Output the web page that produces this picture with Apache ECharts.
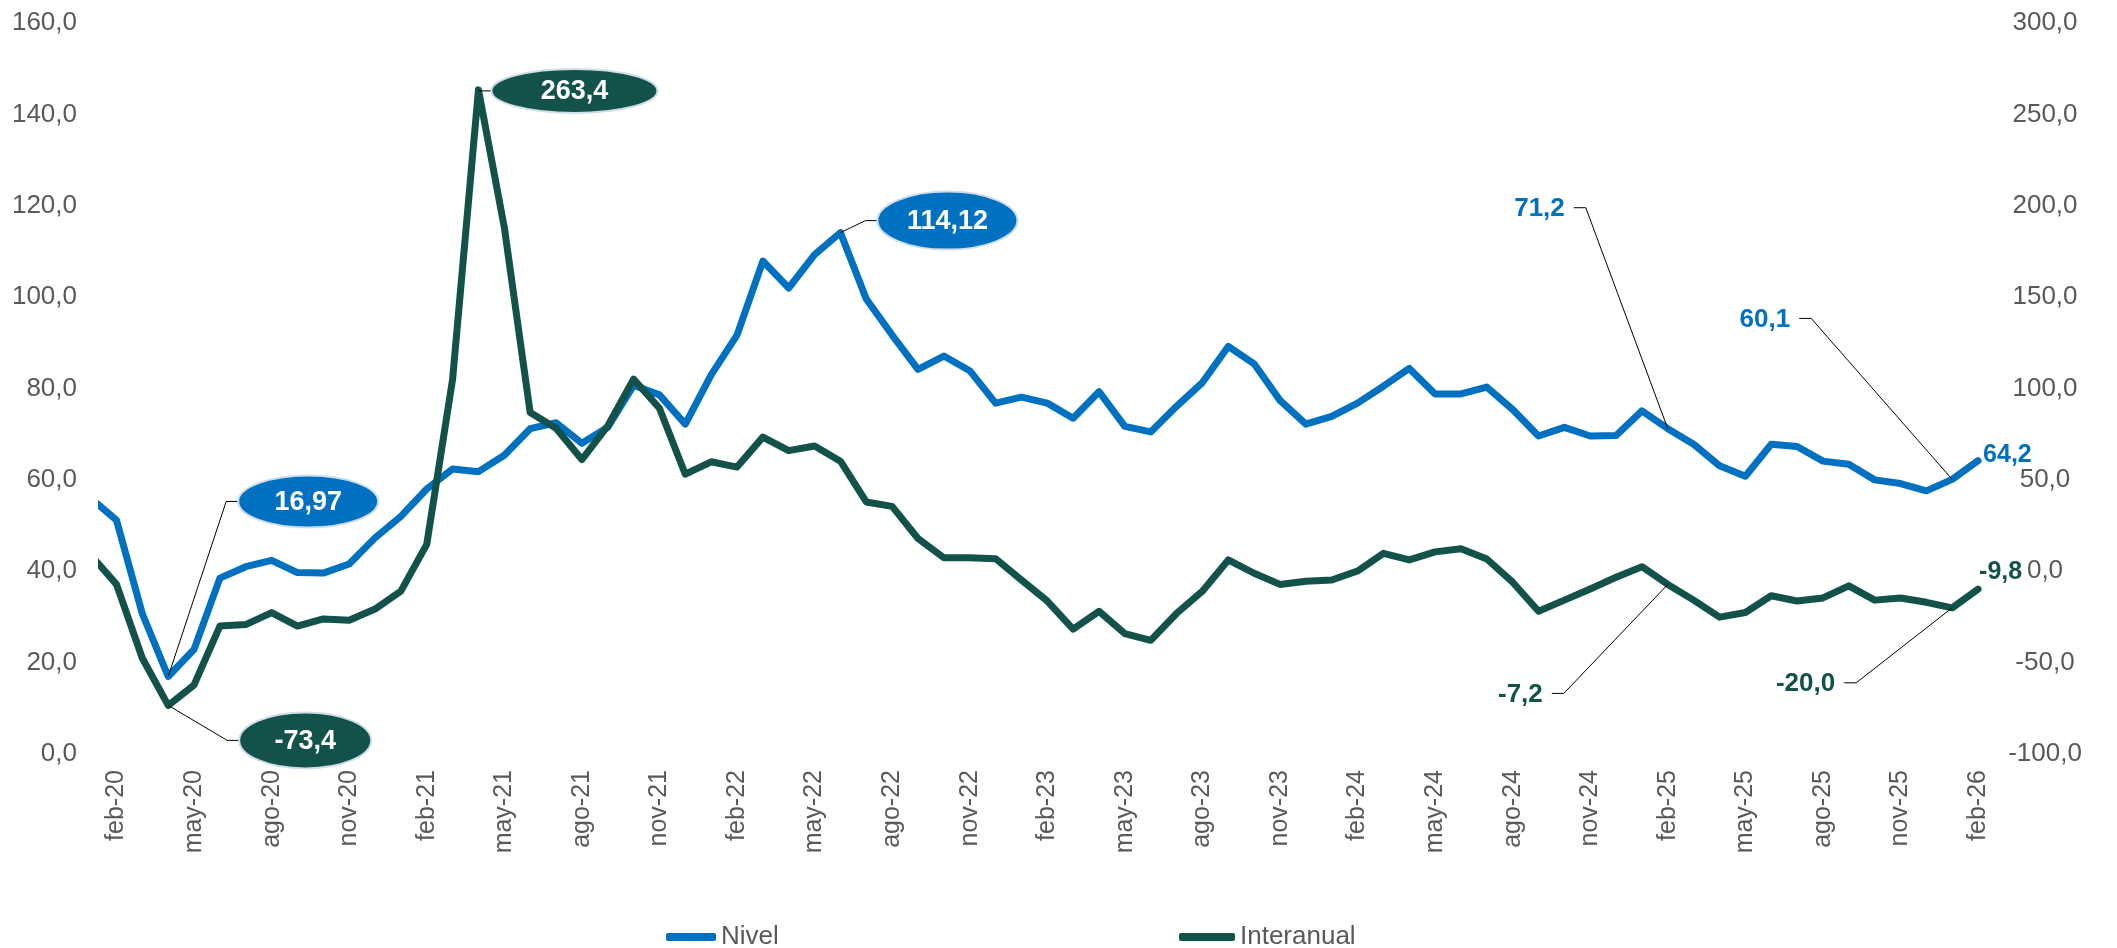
<!DOCTYPE html>
<html>
<head>
<meta charset="utf-8">
<title>Nivel e interanual</title>
<script src="https://cdn.jsdelivr.net/npm/echarts@6.0.0/dist/echarts.min.js"></script>
<style>
  html, body { margin: 0; padding: 0; background: #fff; }
  #chart { width: 2117px; height: 948px; }
</style>
</head>
<body>
<div id="chart"></div>
<script>
  // months from ene-20 to feb-26 (ene-20 only shows as a clipped segment at the left edge)
  var months = [
    'ene-20', 'feb-20', 'mar-20', 'abr-20', 'may-20', 'jun-20', 'jul-20', 'ago-20', 'sep-20', 'oct-20', 'nov-20', 'dic-20',
    'ene-21', 'feb-21', 'mar-21', 'abr-21', 'may-21', 'jun-21', 'jul-21', 'ago-21', 'sep-21', 'oct-21', 'nov-21', 'dic-21',
    'ene-22', 'feb-22', 'mar-22', 'abr-22', 'may-22', 'jun-22', 'jul-22', 'ago-22', 'sep-22', 'oct-22', 'nov-22', 'dic-22',
    'ene-23', 'feb-23', 'mar-23', 'abr-23', 'may-23', 'jun-23', 'jul-23', 'ago-23', 'sep-23', 'oct-23', 'nov-23', 'dic-23',
    'ene-24', 'feb-24', 'mar-24', 'abr-24', 'may-24', 'jun-24', 'jul-24', 'ago-24', 'sep-24', 'oct-24', 'nov-24', 'dic-24',
    'ene-25', 'feb-25', 'mar-25', 'abr-25', 'may-25', 'jun-25', 'jul-25', 'ago-25', 'sep-25', 'oct-25', 'nov-25', 'dic-25',
    'ene-26', 'feb-26'
  ];

  var tickLabels = [
    'feb-20', 'may-20', 'ago-20', 'nov-20', 'feb-21', 'may-21', 'ago-21', 'nov-21',
    'feb-22', 'may-22', 'ago-22', 'nov-22', 'feb-23', 'may-23', 'ago-23', 'nov-23',
    'feb-24', 'may-24', 'ago-24', 'nov-24', 'feb-25', 'may-25', 'ago-25', 'nov-25', 'feb-26'
  ];

  // Nivel (left axis)
  var nivel = [
    56.0, 51.2, 30.7, 16.97, 22.9, 38.5, 41.0, 42.4, 39.7, 39.6, 41.6, 47.3,
    52.0, 58.0, 62.4, 61.8, 65.4, 71.2, 72.5, 68.0, 71.5, 80.7, 78.6, 72.2,
    83.0, 91.7, 107.9, 102.0, 109.3, 114.12, 99.6, 91.7, 84.2, 87.1, 83.9, 76.8,
    78.1, 76.8, 73.5, 79.3, 71.7, 70.5, 76.1, 81.3, 89.2, 85.4, 77.4, 72.2,
    73.9, 76.8, 80.5, 84.4, 78.8, 78.8, 80.3, 75.4, 69.6, 71.5, 69.6, 69.7,
    75.1, 71.2, 67.8, 63.1, 60.8, 67.8, 67.3, 64.1, 63.4, 60.0, 59.2, 57.6,
    60.1, 64.2
  ];

  // Interanual (right axis)
  var interanual = [
    9.0, -7.2, -47.6, -73.4, -62.2, -30.0, -29.2, -22.6, -30.0, -26.1, -26.8, -20.7,
    -10.9, 14.7, 105.1, 263.4, 188.2, 86.8, 78.3, 61.1, 79.5, 105.1, 89.2, 53.1,
    59.9, 57.0, 73.4, 66.0, 68.5, 60.2, 37.9, 35.5, 17.9, 7.4, 7.4, 6.9,
    -4.8, -16.3, -31.7, -21.9, -34.1, -37.8, -23.1, -10.9, 6.2, -1.1, -7.2, -5.5,
    -4.8, 0.1, 9.8, 6.2, 10.6, 12.3, 6.7, -6.0, -21.9, -15.8, -9.7, -3.3,
    2.5, -7.2, -15.8, -25.1, -22.6, -13.4, -16.3, -14.6, -8.0, -15.8, -14.6, -17.0,
    -20.0, -9.8
  ];

  var BLUE = '#0070C0';
  var GREEN = '#12524A';
  var GREY = '#595959';
  var FONT = '"Liberation Sans", Arial, sans-serif';

  // x position: feb-20 = 0
  function toPairs(arr) {
    return arr.map(function (v, k) { return [k - 1, v]; });
  }
  var tickPos = tickLabels.map(function (t) { return months.indexOf(t) - 1; });

  function fmt(v, dec) {
    return v.toFixed(dec).replace('.', ',');
  }

  var chart = echarts.init(document.getElementById('chart'));

  var option = {
    animation: false,
    backgroundColor: '#fff',
    grid: { left: 102, right: 126, top: 23, bottom: 194, containLabel: false },
    legend: [
      {
        data: ['Nivel'], left: 661, top: 919, icon: 'roundRect', itemWidth: 50, itemHeight: 8,
        textStyle: { color: GREY, fontSize: 26, fontFamily: FONT }
      },
      {
        data: ['Interanual'], left: 1174, top: 919, icon: 'roundRect', itemWidth: 56, itemHeight: 8,
        textStyle: { color: GREY, fontSize: 26, fontFamily: FONT }
      }
    ],
    xAxis: {
      type: 'value',
      min: -0.56,
      max: 72.5,
      axisLine: { show: false },
      axisTick: { show: false, customValues: tickPos },
      splitLine: { show: false },
      axisLabel: {
        customValues: tickPos,
        rotate: 90,
        margin: 16,
        color: GREY,
        fontSize: 25,
        fontFamily: FONT,
        formatter: function (v) { return months[Math.round(v) + 1]; }
      }
    },
    yAxis: [
      {
        type: 'value', min: 0, max: 160, interval: 20, position: 'left',
        axisLine: { show: false }, axisTick: { show: false }, splitLine: { show: false },
        axisLabel: { margin: 25, color: GREY, fontSize: 26, fontFamily: FONT,
          formatter: function (v) { return fmt(v, 1); } }
      },
      {
        type: 'value', min: -100, max: 300, interval: 50, position: 'right',
        axisLine: { show: false }, axisTick: { show: false }, splitLine: { show: false },
        axisLabel: { margin: 54, align: 'center', color: GREY, fontSize: 26, fontFamily: FONT,
          formatter: function (v) { return fmt(v, 1); } }
      }
    ],
    series: [
      {
        name: 'Nivel', type: 'line', yAxisIndex: 0, data: toPairs(nivel),
        symbol: 'none', clip: true, color: BLUE,
        lineStyle: { color: BLUE, width: 7, cap: 'round', join: 'round' }
      },
      {
        name: 'Interanual', type: 'line', yAxisIndex: 1, data: toPairs(interanual),
        symbol: 'none', clip: true, color: GREEN,
        lineStyle: { color: GREEN, width: 7, cap: 'round', join: 'round' }
      }
    ]
  };

  chart.setOption(option);

  // annotations: series, month, decimals, style and offset from the point
  var notes = [
    { s: 0, m: 'abr-20', dec: 2, kind: 'ellipse', dx: 140, dy: -175, rx: 70, ry: 26 },
    { s: 1, m: 'abr-20', dec: 1, kind: 'ellipse', dx: 137, dy: 35, rx: 66, ry: 28 },
    { s: 1, m: 'abr-21', dec: 1, kind: 'ellipse', dx: 96, dy: 1, rx: 83, ry: 22 },
    { s: 0, m: 'jun-22', dec: 2, kind: 'ellipse', dx: 107, dy: -12, rx: 70, ry: 29 },
    { s: 0, m: 'feb-25', dec: 1, kind: 'text', dx: -103, dy: -221 },
    { s: 0, m: 'ene-26', dec: 1, kind: 'text', dx: -162, dy: -161 },
    { s: 0, m: 'feb-26', dec: 1, kind: 'end', dx: 5, dy: -6 },
    { s: 1, m: 'feb-25', dec: 1, kind: 'text', dx: -125, dy: 109 },
    { s: 1, m: 'ene-26', dec: 1, kind: 'text', dx: -117, dy: 75 },
    { s: 1, m: 'feb-26', dec: 1, kind: 'end', dx: 1, dy: -17 }
  ];

  var graphics = [];
  notes.forEach(function (n) {
    var k = months.indexOf(n.m);
    var arr = n.s === 0 ? nivel : interanual;
    var v = arr[k];
    var p = chart.convertToPixel({ xAxisIndex: 0, yAxisIndex: n.s }, [k - 1, v]);
    var color = n.s === 0 ? BLUE : GREEN;
    var label = fmt(v, n.dec);
    var cx = p[0] + n.dx, cy = p[1] + n.dy;
    if (n.kind === 'ellipse') {
      graphics.push({
        type: 'polyline', z: 100, silent: true,
        shape: { points: [p, [cx - n.rx - 12, cy], [cx - n.rx, cy]] },
        style: { stroke: '#000', lineWidth: 1, fill: null }
      });
      graphics.push({
        type: 'ellipse', z: 101, silent: true,
        shape: { cx: cx, cy: cy, rx: n.rx, ry: n.ry },
        style: { fill: color, stroke: '#cfdcea', lineWidth: 2 }
      });
      graphics.push({
        type: 'text', z: 102, silent: true, x: cx, y: cy + 1,
        style: { text: label, fill: '#fff', font: 'bold 27px ' + FONT,
          align: 'center', verticalAlign: 'middle', textAlign: 'center', textVerticalAlign: 'middle' }
      });
    } else if (n.kind === 'text') {
      graphics.push({
        type: 'polyline', z: 100, silent: true,
        shape: { points: [[cx + 9, cy], [cx + 21, cy], p] },
        style: { stroke: '#000', lineWidth: 1, fill: null }
      });
      graphics.push({
        type: 'text', z: 102, silent: true, x: cx, y: cy + 1,
        style: { text: label, fill: color, font: 'bold 26px ' + FONT,
          align: 'right', verticalAlign: 'middle', textAlign: 'right', textVerticalAlign: 'middle' }
      });
    } else {
      graphics.push({
        type: 'text', z: 102, silent: true, x: cx, y: cy,
        style: { text: label, fill: color, font: 'bold 25px ' + FONT,
          align: 'left', verticalAlign: 'middle', textAlign: 'left', textVerticalAlign: 'middle' }
      });
    }
  });

  chart.setOption({ graphic: graphics });
</script>
</body>
</html>
